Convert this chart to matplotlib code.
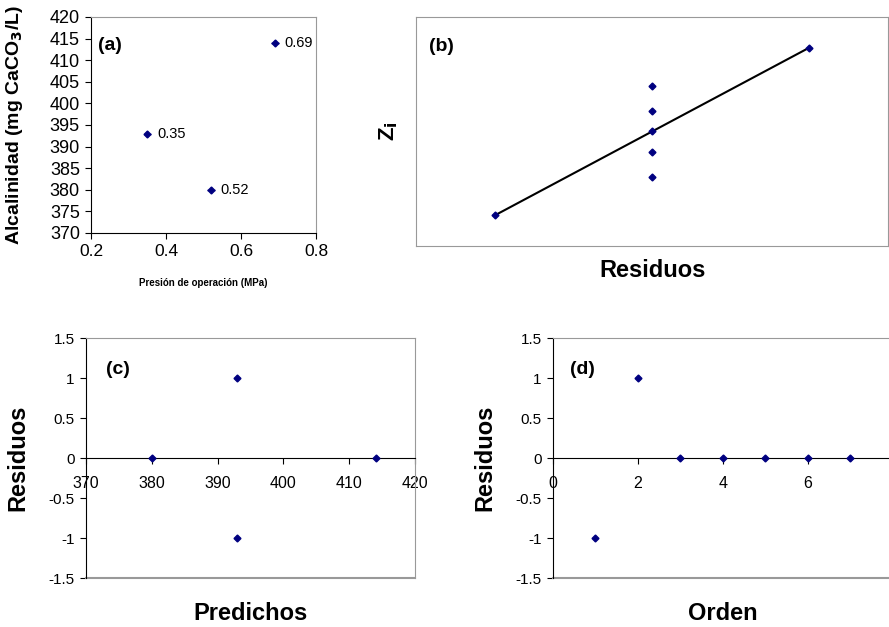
import numpy as np
import matplotlib.pyplot as plt

plt.rcParams['font.family'] = ['Liberation Sans', 'DejaVu Sans']

# (a) alcalinidad vs presion
presion = [0.35, 0.52, 0.69]
alcalinidad = [393, 380, 414]
etiquetas_a = ['0.35', '0.52', '0.69']

# (b) probabilidad normal de residuos
res_sorted = [-1, 0, 0, 0, 0, 0, 1]
zi = [-1.466, -0.792, -0.366, 0.0, 0.366, 0.792, 1.466]
linea_x = [-1, 1]
linea_z = [-1.466, 1.466]

# (c) residuos vs predichos
predichos = [380, 393, 393, 414]
residuos_c = [0, 1, -1, 0]

# (d) residuos vs orden
orden = [1, 2, 3, 4, 5, 6, 7]
residuos_d = [-1, 1, 0, 0, 0, 0, 0]

navy = '#000080'
gray = '#999999'

fig = plt.figure(figsize=(8.89, 6.27), dpi=100)

# ---- (a)
ax = fig.add_axes([0.1024, 0.6284, 0.2531, 0.3445])
ax.errorbar(presion, alcalinidad, xerr=0.01, fmt='D', color=navy, ms=3.5,
            elinewidth=1, capsize=0)
for x, y, t in zip(presion, alcalinidad, etiquetas_a):
    ax.annotate(t, (x, y), xytext=(7, 0), textcoords='offset points',
                va='center', ha='left', fontsize=10.5)
ax.set_xlim(0.2, 0.8)
ax.set_ylim(370, 420)
ax.set_xticks([0.2, 0.4, 0.6, 0.8])
ax.set_yticks(np.arange(370, 421, 5))
ax.tick_params(axis='x', labelsize=12.5, length=4, pad=4)
ax.tick_params(axis='y', labelsize=13, length=4, pad=4)
ax.spines['top'].set_color(gray)
ax.spines['right'].set_color(gray)
ax.set_ylabel('Alcalinidad (mg CaCO$_\\mathbf{3}$/L)', fontsize=14,
              fontweight='bold', va='center')
ax.yaxis.set_label_coords(-0.338, 0.5)
ax.set_xlabel('Presión de operación (MPa)', fontsize=7, fontweight='bold',
              va='center')
ax.xaxis.set_label_coords(0.498, -0.231)
ax.text(0.03, 0.87, '(a)', transform=ax.transAxes, fontsize=14, fontweight='bold',
        va='center')

# ---- (b)
ax = fig.add_axes([0.468, 0.6077, 0.531, 0.3652])
ax.plot(linea_x, linea_z, color='black', lw=1.5)
ax.plot(res_sorted, zi, 'D', color=navy, ms=3.5)
ax.set_xlim(-1.5, 1.5)
ax.set_ylim(-2, 2)
ax.set_xticks([])
ax.set_yticks([])
for s in ax.spines.values():
    s.set_color(gray)
ax.set_xlabel('Residuos', fontsize=17, fontweight='bold', va='center')
ax.xaxis.set_label_coords(0.501, -0.105)
ax.set_ylabel('Z$_\\mathbf{i}$', fontsize=16, fontweight='bold', va='center')
ax.yaxis.set_label_coords(-0.059, 0.5)
ax.text(0.027, 0.87, '(b)', transform=ax.transAxes, fontsize=14, fontweight='bold',
        va='center')

xlabels = {'c': 'Predichos', 'd': 'Orden'}


def residual_axes(rect, xs, ys, xlim, xticks, letter):
    ax = fig.add_axes(rect)
    ax.plot(xs, ys, 'D', color=navy, ms=3.5, zorder=3)
    ax.set_xlim(*xlim)
    ax.set_ylim(-1.5, 1.5)
    ax.set_xticks(xticks)
    ax.set_yticks([-1.5, -1, -0.5, 0, 0.5, 1, 1.5])
    ax.set_yticklabels(['-1.5', '-1', '-0.5', '0', '0.5', '1', '1.5'])
    ax.spines['bottom'].set_position(('data', 0))
    ax.spines['top'].set_color(gray)
    ax.spines['right'].set_color(gray)
    ax.plot([0, 1], [0, 0], transform=ax.transAxes, color=gray, lw=1.5,
            clip_on=False)
    ax.tick_params(axis='y', labelsize=11, length=4, pad=4)
    ax.tick_params(axis='x', labelsize=11.5, length=4, pad=9)
    ax.set_ylabel('Residuos', fontsize=17, fontweight='bold', va='center')
    ax.set_xlabel(xlabels[letter], fontsize=17, fontweight='bold', va='center')
    ax.text(0.06 if letter == 'c' else 0.05, 0.87, '(%s)' % letter,
            transform=ax.transAxes, fontsize=14, fontweight='bold', va='center')
    return ax


ax = residual_axes([0.0967, 0.0781, 0.3701, 0.3828], predichos, residuos_c,
                   (370, 420), [370, 380, 390, 400, 410, 420], 'c')
ax.yaxis.set_label_coords(-0.207, 0.5)
ax.xaxis.set_label_coords(0.50, -0.146)

ax = residual_axes([0.622, 0.0781, 0.3825, 0.3828], orden, residuos_d,
                   (0, 8), [0, 2, 4, 6, 8], 'd')
ax.yaxis.set_label_coords(-0.2, 0.5)
ax.xaxis.set_label_coords(0.4985, -0.146)

fig.savefig('out.png', dpi=100)
